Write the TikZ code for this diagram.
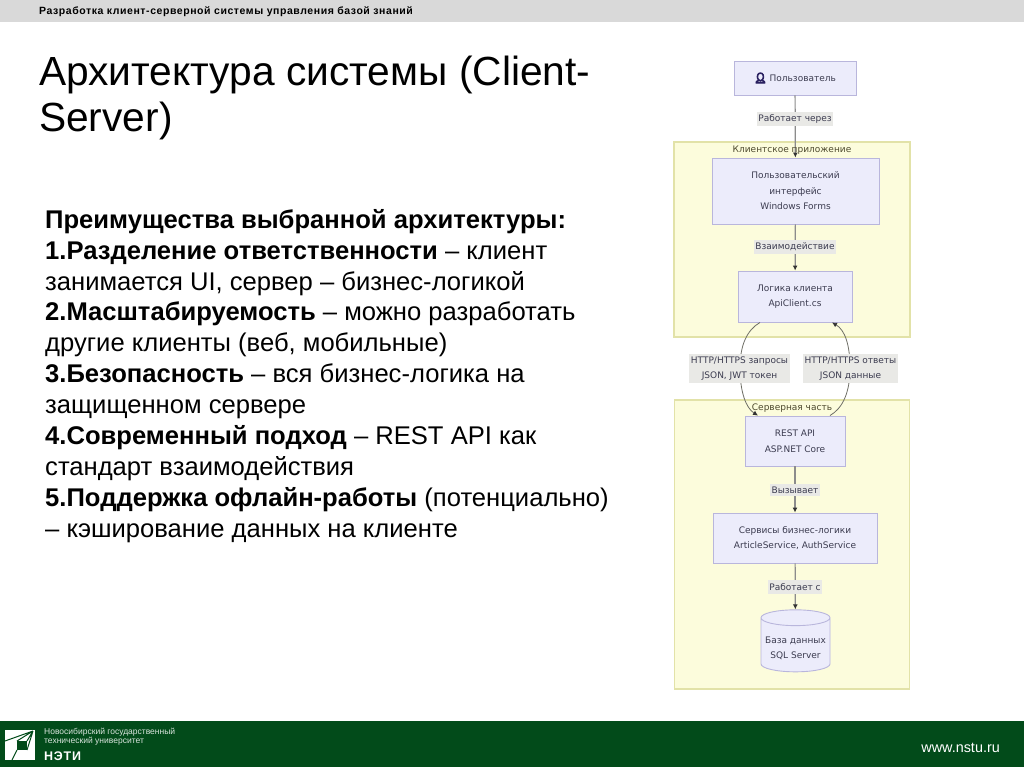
\documentclass[tikz,border=0pt]{standalone}
\usepackage{fontspec}
\setmainfont{Liberation Sans}
\newfontfamily\diagfont{DejaVu Sans}
\newfontfamily\emojifont[FakeBold=12]{Noto Emoji}
\usetikzlibrary{arrows.meta,positioning,shapes.geometric}
\definecolor{headgrey}{HTML}{D9D9D9}
\definecolor{footgreen}{HTML}{024B1A}
\definecolor{boxfill}{HTML}{ECECFB}
\definecolor{boxline}{HTML}{B9B6DC}
\definecolor{grpfill}{HTML}{FCFCDC}
\definecolor{grpline}{HTML}{E2E2A8}
\definecolor{labfill}{HTML}{E9E9E6}
\definecolor{conncol}{HTML}{6E6E66}
\definecolor{difftext}{HTML}{3C3C50}
\definecolor{iconcol}{HTML}{2A2060}

\begin{document}
\begin{tikzpicture}[x=1pt,y=-1pt,
 bx/.style={draw=boxline,fill=boxfill,line width=0.9pt,inner sep=0pt,align=center,text=difftext,font=\diagfont\fontsize{9}{15.5}\selectfont},
 grp/.style={draw=grpline,fill=grpfill,line width=1.1pt},
 lab/.style={fill=labfill,inner xsep=1.5pt,inner ysep=3pt,align=center,text=difftext,font=\diagfont\fontsize{9}{15.5}\selectfont},
 grplab/.style={text=black!60!olive,inner sep=0pt,font=\diagfont\fontsize{9}{11}\selectfont},
 conn/.style={draw=conncol,line width=0.8pt,-{Latex[length=5pt,width=5pt,color=black!80]}},
 straight/.style={conn,draw=black!45,line width=1.2pt}]
\useasboundingbox (0,0) rectangle (1024,767);
% bars
\fill[headgrey] (0,0) rectangle (1024,22);
\fill[footgreen] (0,721) rectangle (1024,767);
\node[anchor=west,inner sep=0pt,font=\fontsize{10.5}{12}\selectfont\bfseries\addfontfeature{LetterSpace=5.4}] (head) at (39,12) {Разработка клиент-серверной системы управления базой знаний};
% left text
\node[anchor=north west,inner sep=0pt,align=left,font=\fontsize{40.7}{46}\selectfont] (title) at (39,56) {Архитектура системы (Client-\\Server)};
\node[anchor=north west,inner sep=0pt,align=left,font=\fontsize{25.6}{30.9}\selectfont] (body) at (45,209) {\textbf{Преимущества выбранной архитектуры:}\\
\textbf{1.Разделение ответственности} -- клиент\\
занимается UI, сервер -- бизнес-логикой\\
\textbf{2.Масштабируемость} -- можно разработать\\
другие клиенты (веб, мобильные)\\
\textbf{3.Безопасность} -- вся бизнес-логика на\\
защищенном сервере\\
\textbf{4.Современный подход} -- REST API как\\
стандарт взаимодействия\\
\textbf{5.Поддержка офлайн-работы} (потенциально)\\
-- кэширование данных на клиенте};
% groups
\node[grp,minimum width=236pt,minimum height=195pt,inner sep=0pt] (client) at (792,239.5) {};
\node[grp,minimum width=235pt,minimum height=289pt,inner sep=0pt] (server) at (792,544.5) {};
% boxes
\node[bx,minimum width=122pt,minimum height=34pt] (user) at (795,78) {{\emojifont\color{iconcol}\fontsize{10}{10}\selectfont 👤}\ Пользователь};
\node[bx,minimum width=167pt,minimum height=66pt] (ui) at (795.5,191) {Пользовательский\\интерфейс\\Windows Forms};
\node[bx,minimum width=114pt,minimum height=51pt] (logic) at (795,296.5) {Логика клиента\\ApiClient.cs};
\node[bx,minimum width=100pt,minimum height=50pt] (rest) at (795,441) {REST API\\ASP.NET Core};
\node[bx,minimum width=164pt,minimum height=50pt] (svc) at (795,538) {Сервисы бизнес-логики\\ArticleService, AuthService};
\node[bx,cylinder,shape border rotate=90,aspect=0.26,minimum width=69pt,minimum height=62pt,cylinder uses custom fill,cylinder body fill=boxfill,cylinder end fill=boxfill] (db) at (795.5,645) {\phantom{База данных}};
\node[inner sep=0pt,align=center,text=difftext,font=\diagfont\fontsize{9}{15.5}\selectfont] (dbtext) at (795.5,648.5) {База данных\\SQL Server};
% connectors
\draw[straight] (user) -- (ui);
\draw[straight] (ui) -- (logic);
\draw[straight] (rest) -- (svc);
\draw[straight] (svc) -- (db);
\draw[conn] ([xshift=-35pt]logic.south) .. controls (747,330) and (740,345) .. (740,368) .. controls (740,392) and (746,408) .. ([xshift=-37pt]rest.north);
\draw[conn] ([xshift=35pt]rest.north) .. controls (843,408) and (850,392) .. (850,368) .. controls (850,345) and (845,330) .. ([xshift=37pt]logic.south);
% labels
\node[lab] (l1) at (795,119) {Работает через};
\node[lab] (l2) at (795,247) {Взаимодействие};
\node[lab] (l3) at (739.5,368.5) {HTTP/HTTPS запросы\\JSON, JWT токен};
\node[lab] (l4) at (850.5,368.5) {HTTP/HTTPS ответы\\JSON данные};
\node[lab] (l5) at (795,490) {Вызывает};
\node[lab] (l6) at (795,587) {Работает с};
\node[grplab] (g1) at (792,150) {Клиентское приложение};
\node[grplab] (g2) at (792,408) {Серверная часть};
% footer
\fill[white] (5,730) rectangle (35,760);
\fill[footgreen] (17,741) rectangle (27,750);
\draw[footgreen,line width=1pt] (5,741) -- (33,731) (17,741) -- (33,731) (27,741) -- (33,731) (27,750) -- (33,731) (17,750) -- (12,760);
\node[anchor=north west,inner sep=0pt,align=left,text=white!85!footgreen,font=\fontsize{8.5}{9.2}\selectfont] (uni) at (44,728) {Новосибирский государственный\\технический университет};
\node[anchor=west,inner sep=0pt,text=white,font=\fontsize{12.5}{12}\selectfont\bfseries\addfontfeature{LetterSpace=6}] (neti) at (44,756) {НЭТИ};
\node[anchor=east,inner sep=0pt,text=white,font=\fontsize{14.4}{14}\selectfont] (site) at (1000,748) {www.nstu.ru};
\end{tikzpicture}
\end{document}
